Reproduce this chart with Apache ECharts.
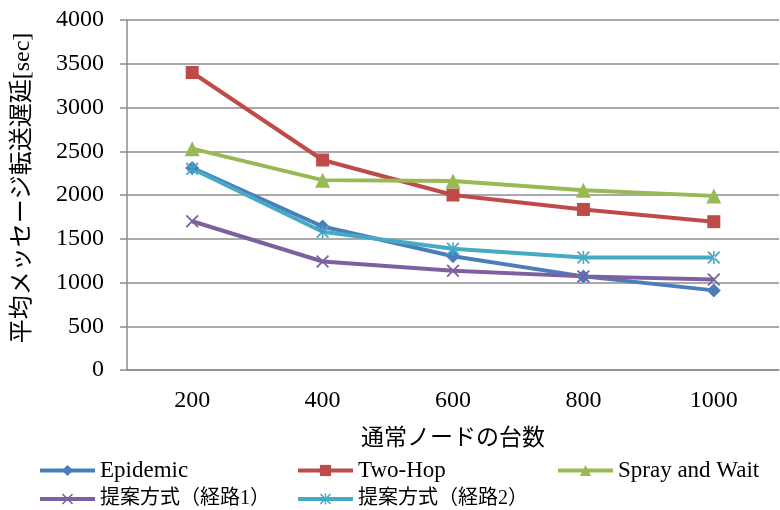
<!DOCTYPE html>
<html>
<head>
<meta charset="utf-8">
<script src="https://cdn.jsdelivr.net/npm/echarts@6/dist/echarts.min.js"></script>
<style>
  html, body { margin: 0; padding: 0; background: #fff; }
  #chart { width: 780px; height: 510px; }
</style>
</head>
<body>
<div id="chart"></div>
<script>
// Number of ordinary nodes (x categories)
const nodeCounts = ['200', '400', '600', '800', '1000'];

// Average message delivery delay [sec] per scheme
const epidemic = [2310, 1640, 1300, 1070, 910];
const twoHop = [3400, 2400, 2000, 1835, 1695];
const sprayAndWait = [2530, 2170, 2160, 2055, 1990];
const proposedRoute1 = [1700, 1240, 1135, 1070, 1035];
const proposedRoute2 = [2300, 1580, 1385, 1285, 1285];

const yTicks = { min: 0, max: 4000, interval: 500 };

const seriesNames = ['Epidemic', 'Two-Hop', 'Spray and Wait', '提案方式（経路1）', '提案方式（経路2）'];
const seriesColors = ['#4A7EBB', '#BE4B48', '#98B954', '#7D60A0', '#46AAC5'];

const FONT = "Times New Roman, Liberation Serif, Noto Sans CJK JP, serif";
const GRID_COLOR = '#8C8C8C';

// Cross and asterisk markers drawn as filled outlines
const crossPath = 'path://M1,0 L5,4 L9,0 L10,1 L6,5 L10,9 L9,10 L5,6 L1,10 L0,9 L4,5 L0,1 Z';
const starPath = 'path://M1,0 L5,4 L9,0 L10,1 L6,5 L10,9 L9,10 L5,6 L1,10 L0,9 L4,5 L0,1 Z M4.4,0 L4.4,10 L5.6,10 L5.6,0 Z';

const symbols = ['diamond', 'rect', 'triangle', crossPath, starPath];
const symbolSizes = [14, 13, 15, 13, 13];
const dataSets = [epidemic, twoHop, sprayAndWait, proposedRoute1, proposedRoute2];

const series = dataSets.map((d, i) => ({
  name: seriesNames[i],
  type: 'line',
  data: d,
  symbol: symbols[i],
  symbolSize: symbolSizes[i],
  showAllSymbol: true,
  lineStyle: { width: 4, color: seriesColors[i] },
  itemStyle: { color: seriesColors[i] },
  emphasis: { disabled: true },
  animation: false
}));

// One legend block per entry so entries line up in fixed columns
const legendSlots = [
  { left: 38, top: 459, size: 23 },
  { left: 296, top: 459, size: 23 },
  { left: 556, top: 459, size: 23 },
  { left: 38, top: 489, size: 20 },
  { left: 296, top: 489, size: 20 }
];
const legends = legendSlots.map((pos, i) => ({
  data: [seriesNames[i]],
  left: pos.left,
  top: pos.top,
  padding: 0,
  itemWidth: 55,
  itemHeight: 14,
  itemGap: 0,
  selectedMode: false,
  lineStyle: { width: 4 },
  textStyle: { fontFamily: FONT, fontSize: pos.size, color: '#000' }
}));

const chart = echarts.init(document.getElementById('chart'), null, { renderer: 'canvas' });
chart.setOption({
  backgroundColor: '#fff',
  animation: false,
  color: seriesColors,
  legend: legends,
  grid: { left: 127, right: 1, top: 20, bottom: 140, containLabel: false },
  xAxis: {
    type: 'category',
    data: nodeCounts,
    boundaryGap: true,
    name: '通常ノードの台数',
    nameLocation: 'middle',
    nameGap: 57,
    nameTextStyle: { fontFamily: FONT, fontSize: 23, color: '#000' },
    axisLine: { lineStyle: { color: GRID_COLOR, width: 1.5 } },
    axisTick: { show: false },
    axisLabel: { fontFamily: FONT, fontSize: 24, color: '#000', margin: 19 }
  },
  yAxis: {
    type: 'value',
    min: yTicks.min,
    max: yTicks.max,
    interval: yTicks.interval,
    name: '平均メッセージ転送遅延[sec]',
    nameLocation: 'middle',
    nameRotate: 90,
    nameGap: 92,
    nameTextStyle: { fontFamily: FONT, fontSize: 24, color: '#000', padding: [0, 0, 0, 14] },
    axisLine: { show: true, lineStyle: { color: GRID_COLOR, width: 1.5 } },
    axisTick: { show: true, length: 7, lineStyle: { color: GRID_COLOR, width: 1.5 } },
    axisLabel: {
      fontFamily: FONT, fontSize: 24, color: '#000', margin: 23,
      formatter: v => String(v)
    },
    splitLine: { show: true, lineStyle: { color: GRID_COLOR, width: 1.5 } }
  },
  series: series
});
</script>
</body>
</html>
